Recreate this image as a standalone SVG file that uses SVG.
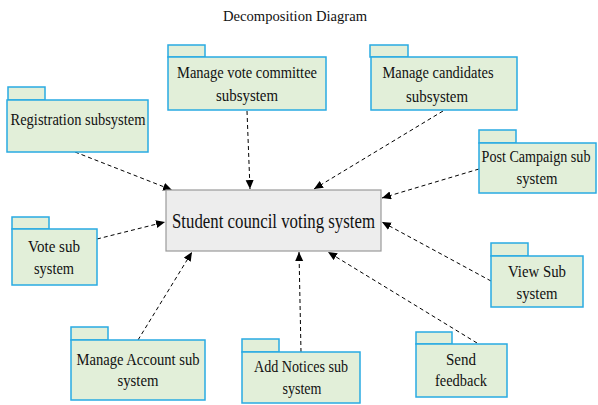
<svg xmlns="http://www.w3.org/2000/svg" width="598" height="405" viewBox="0 0 598 405">
<style>
.pk{fill:#e2efd9;stroke:#29abe2;stroke-width:1.5}
.t{font-family:'Liberation Serif','DejaVu Serif',serif;font-size:17px;fill:#111;text-anchor:middle}
.c{fill:none;stroke:#000;stroke-width:1;stroke-dasharray:4,3;marker-end:url(#ah)}
</style>
<defs>
<marker id="ah" markerUnits="userSpaceOnUse" markerWidth="10" markerHeight="10" refX="9" refY="4" orient="auto">
<path d="M0,0 L9,4 L0,8 Z" fill="#000"/>
</marker>
</defs>
<rect width="598" height="405" fill="#fff"/>
<text x="295" y="21" class="t" style="font-size:14px" textLength="144" lengthAdjust="spacingAndGlyphs">Decomposition Diagram</text>

<g id="connectors">
<line class="c" x1="75" y1="152" x2="172" y2="190"/>
<line class="c" x1="247" y1="111" x2="250" y2="189"/>
<line class="c" x1="443" y1="111" x2="314" y2="189"/>
<line class="c" x1="479" y1="169" x2="382" y2="198"/>
<line class="c" x1="97" y1="239" x2="165" y2="222"/>
<line class="c" x1="491" y1="281" x2="382" y2="222"/>
<line class="c" x1="138" y1="340" x2="192" y2="252"/>
<line class="c" x1="301" y1="352" x2="299" y2="252"/>
<line class="c" x1="477" y1="343" x2="328" y2="252"/>
</g>

<g id="main">
<rect x="166" y="190" width="215" height="61" fill="#ededed" stroke="#9a9a9a" stroke-width="1.2"/>
<text x="273.5" y="228" class="t" style="font-size:21px" textLength="203" lengthAdjust="spacingAndGlyphs">Student council voting system</text>
</g>

<g id="registration">
<rect class="pk" x="8" y="87" width="37" height="13"/>
<rect class="pk" x="7" y="100" width="141" height="52"/>
<text x="78" y="125" class="t" textLength="135" lengthAdjust="spacingAndGlyphs">Registration subsystem</text>
</g>

<g id="committee">
<rect class="pk" x="168" y="45" width="37" height="12"/>
<rect class="pk" x="168" y="57" width="158" height="53"/>
<text x="247" y="78" class="t" textLength="140" lengthAdjust="spacingAndGlyphs">Manage vote committee</text>
<text x="247" y="101" class="t" textLength="62" lengthAdjust="spacingAndGlyphs">subsystem</text>
</g>

<g id="candidates">
<rect class="pk" x="370" y="45" width="38" height="12"/>
<rect class="pk" x="371" y="57" width="146" height="53"/>
<text x="438" y="78" class="t" textLength="111" lengthAdjust="spacingAndGlyphs">Manage candidates</text>
<text x="437" y="102" class="t" textLength="62" lengthAdjust="spacingAndGlyphs">subsystem</text>
</g>

<g id="postcampaign">
<rect class="pk" x="479" y="130" width="37" height="13"/>
<rect class="pk" x="479" y="143" width="117" height="50"/>
<text class="t" transform="translate(536,162) scale(0.83,1)">Post Campaign sub</text>
<text x="537" y="184" class="t" textLength="41" lengthAdjust="spacingAndGlyphs">system</text>
</g>

<g id="votesub">
<rect class="pk" x="12" y="217" width="37" height="12"/>
<rect class="pk" x="12" y="229" width="85" height="56"/>
<text x="54" y="252" class="t" textLength="52" lengthAdjust="spacingAndGlyphs">Vote sub</text>
<text x="54" y="274" class="t" textLength="40" lengthAdjust="spacingAndGlyphs">system</text>
</g>

<g id="viewsub">
<rect class="pk" x="491" y="243" width="37" height="13"/>
<rect class="pk" x="491" y="256" width="92" height="51"/>
<text x="537" y="277" class="t" textLength="58" lengthAdjust="spacingAndGlyphs">View Sub</text>
<text x="537" y="299" class="t" textLength="41" lengthAdjust="spacingAndGlyphs">system</text>
</g>

<g id="account">
<rect class="pk" x="71" y="327" width="37" height="13"/>
<rect class="pk" x="71" y="340" width="134" height="60"/>
<text x="138" y="365" class="t" textLength="123" lengthAdjust="spacingAndGlyphs">Manage Account sub</text>
<text x="138" y="386" class="t" textLength="41" lengthAdjust="spacingAndGlyphs">system</text>
</g>

<g id="notices">
<rect class="pk" x="242" y="339" width="37" height="13"/>
<rect class="pk" x="242" y="352" width="118" height="51"/>
<text x="301" y="372" class="t" textLength="94" lengthAdjust="spacingAndGlyphs">Add Notices sub</text>
<text x="302" y="394" class="t" textLength="39" lengthAdjust="spacingAndGlyphs">system</text>
</g>

<g id="feedback">
<rect class="pk" x="416" y="332" width="36" height="12"/>
<rect class="pk" x="416" y="344" width="91" height="53"/>
<text x="461" y="365" class="t" textLength="30" lengthAdjust="spacingAndGlyphs">Send</text>
<text x="461" y="386" class="t" textLength="52" lengthAdjust="spacingAndGlyphs">feedback</text>
</g>
</svg>
